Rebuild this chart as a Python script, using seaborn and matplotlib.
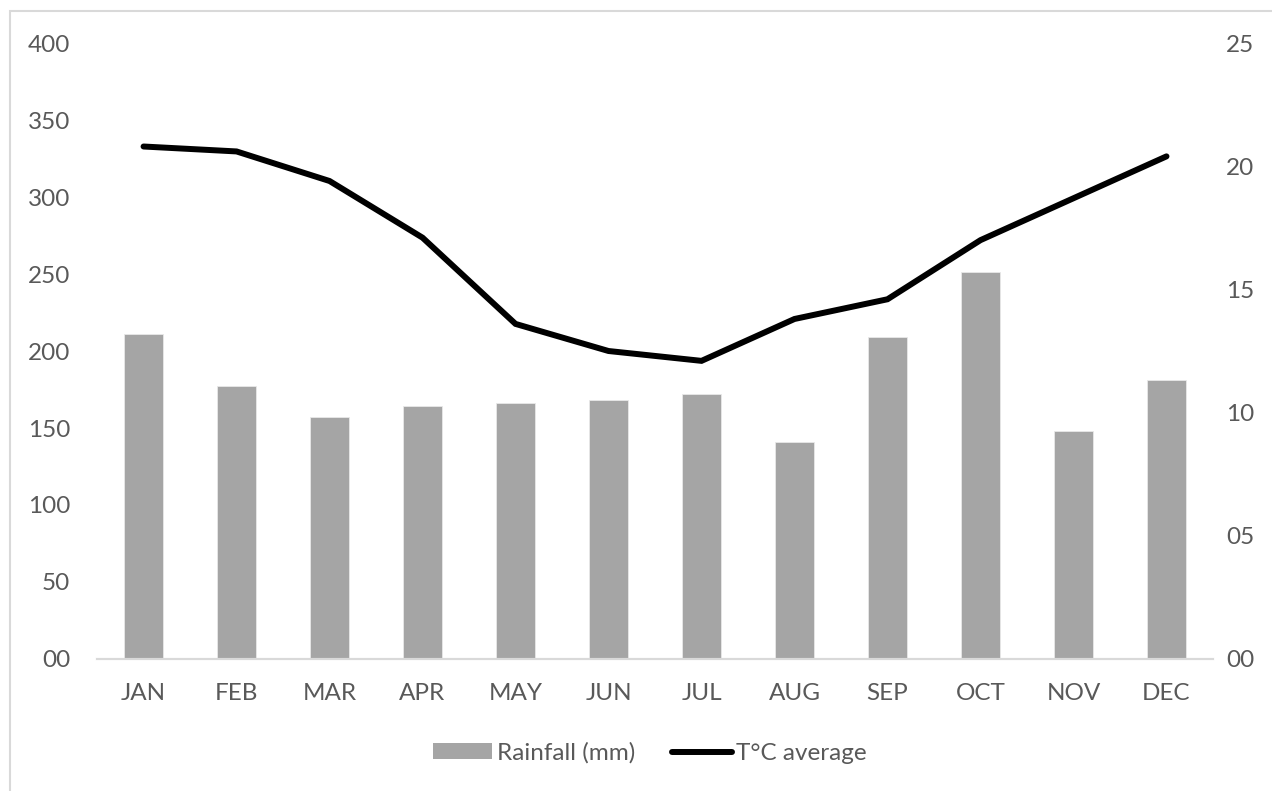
import numpy as np
import pandas as pd
import matplotlib
matplotlib.use("Agg")
import matplotlib.pyplot as plt
from matplotlib.patches import Rectangle, Patch
from matplotlib.lines import Line2D
from matplotlib.ticker import FuncFormatter
import seaborn as sns

months = ["JAN", "FEB", "MAR", "APR", "MAY", "JUN",
          "JUL", "AUG", "SEP", "OCT", "NOV", "DEC"]
rainfall_mm = [211, 177, 157, 164, 166, 168, 172, 141, 209, 251, 148, 181]
temp_avg_c = [20.8, 20.6, 19.4, 17.1, 13.6, 12.5, 12.1, 13.8, 14.6, 17.0, 18.7, 20.4]
left_ticks = [0, 50, 100, 150, 200, 250, 300, 350, 400]
right_ticks = [0, 5, 10, 15, 20, 25]

sns.set_theme(style="white")
plt.rcParams["font.family"] = ["Lato", "DejaVu Sans"]

text_color = "#595959"
bar_color = "#a5a5a5"
grid_color = "#d9d9d9"
fs = 17.5

df = pd.DataFrame({"month": months, "rain": rainfall_mm, "temp": temp_avg_c})

fig = plt.figure(figsize=(12.72, 7.91), dpi=100)
ax = fig.add_axes([0.0763, 0.1669, 0.8773, 0.7787])

sns.barplot(data=df, x="month", y="rain", color=bar_color, width=0.41,
            saturation=1, edgecolor="#e8e8e8", linewidth=0.6, ax=ax)
ax.set_ylim(0, 400)
ax.set_xlim(-0.5, 11.5)
ax.set_yticks(left_ticks)
ax.yaxis.set_major_formatter(FuncFormatter(lambda v, p: f"{int(v):02d}"))
ax.set_xlabel("")
ax.set_ylabel("")

ax2 = ax.twinx()
sns.lineplot(x=np.arange(len(months)), y=df["temp"], color="black",
             linewidth=4.3, ax=ax2, solid_capstyle="round",
             solid_joinstyle="miter")
ax2.set_ylim(0, 25)
ax2.set_yticks(right_ticks)
ax2.yaxis.set_major_formatter(FuncFormatter(lambda v, p: f"{int(v):02d}"))
ax2.set_ylabel("")
ax2.set_xlim(-0.5, 11.5)

for a in (ax, ax2):
    for side in ("top", "left", "right"):
        a.spines[side].set_visible(False)
    a.spines["bottom"].set_color(grid_color)
    a.spines["bottom"].set_linewidth(1.5)
    a.tick_params(length=0, labelsize=fs, labelcolor=text_color)

ax.tick_params(axis="y", pad=19.4)
ax.tick_params(axis="x", pad=17)
ax2.tick_params(axis="y", pad=9.4)

handles = [
    Patch(facecolor=bar_color, edgecolor="none", label="Rainfall (mm)"),
    Line2D([0], [0], color="black", linewidth=4.3, label="T°C average"),
]
fig.legend(handles=handles, loc="center", bbox_to_anchor=(0.511, 0.048),
           ncol=2, frameon=False, fontsize=fs, labelcolor=text_color,
           handlelength=2.45, handleheight=0.62, handletextpad=0.2,
           columnspacing=1.5)

fig.patches.append(Rectangle((10 / 1272, -0.05), 1.1, 1 - 11 / 791 + 0.05,
                             transform=fig.transFigure, fill=False,
                             edgecolor=grid_color, linewidth=1.5, zorder=0))

fig.savefig("out.png", dpi=100, facecolor="white")
